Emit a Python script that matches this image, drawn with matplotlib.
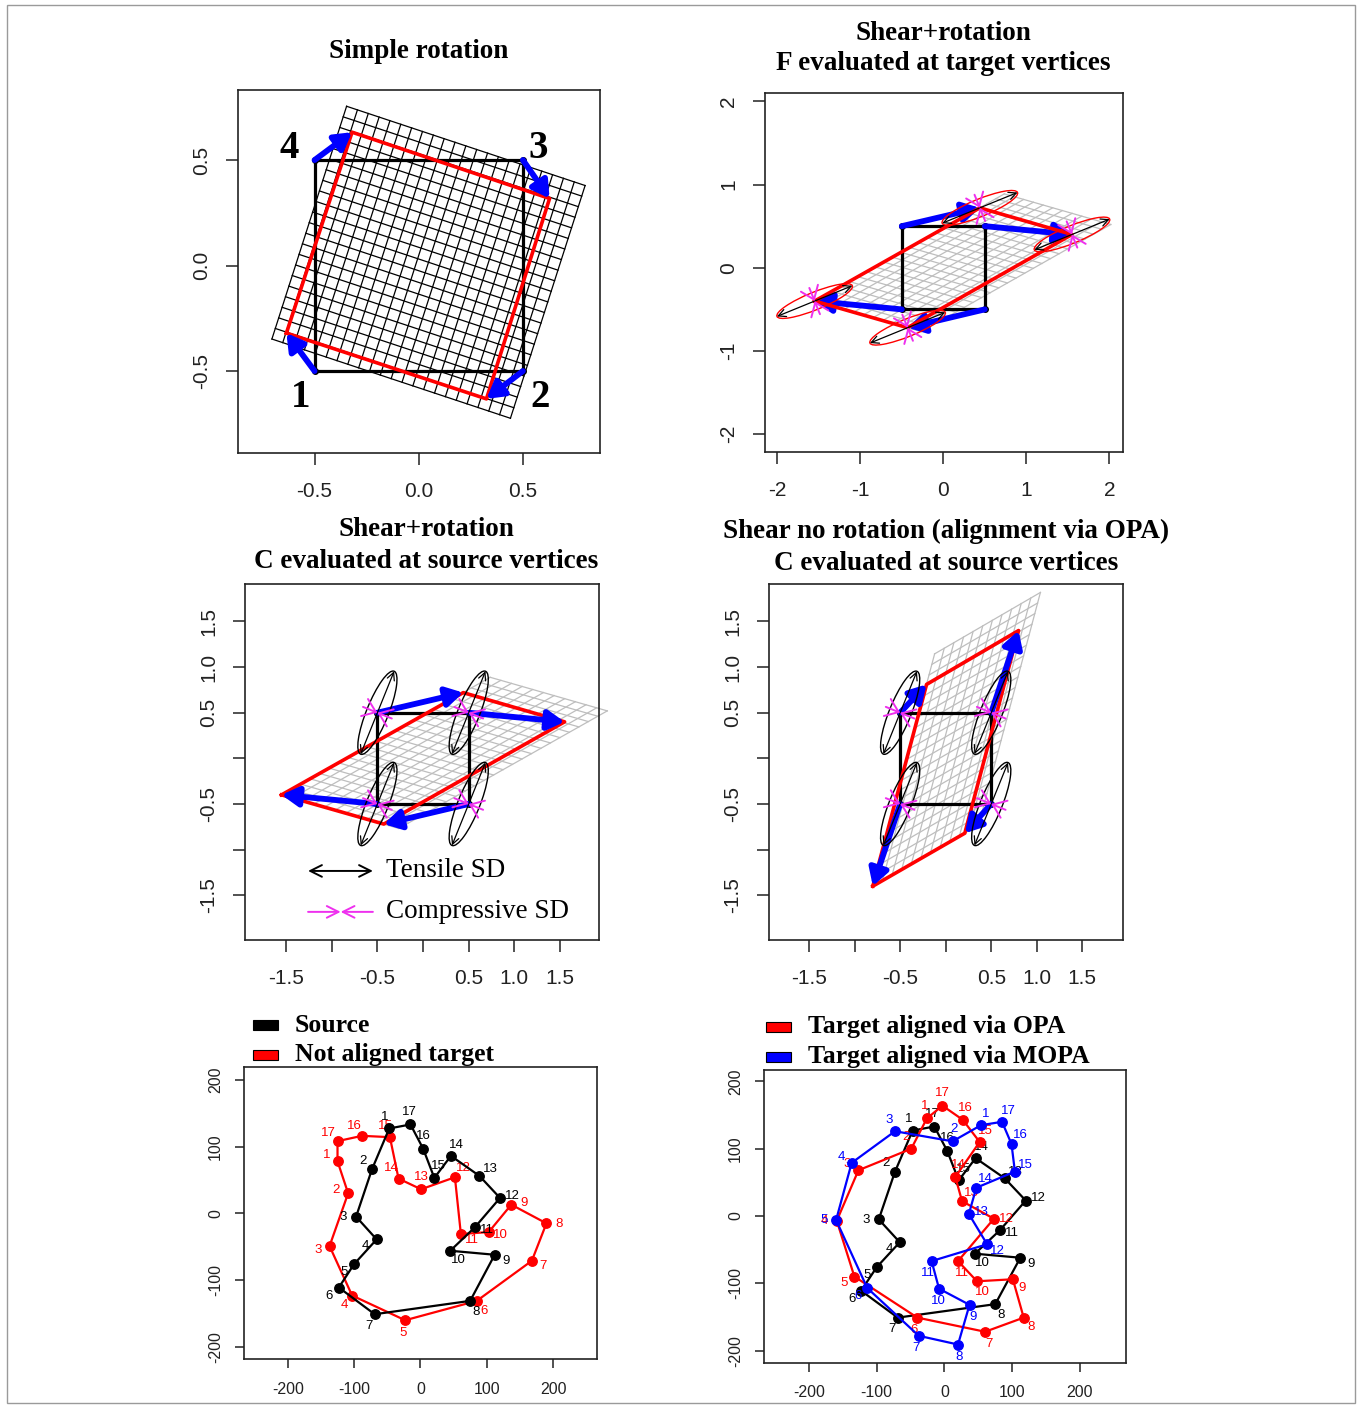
import numpy as np
import matplotlib
matplotlib.use("Agg")
import matplotlib.pyplot as plt
from matplotlib.patches import Ellipse, Rectangle

# ------------------------------------------------------------------ data
square_x = [-0.5, 0.5, 0.5, -0.5]
square_y = [-0.5, -0.5, 0.5, 0.5]
vertex_labels = ["1", "2", "3", "4"]

rot_target_x = [-0.635, 0.325, 0.628, -0.320]
rot_target_y = [-0.320, -0.632, 0.318, 0.632]

shear_target_x = [-1.55, -0.43, 1.55, 0.44]
shear_target_y = [-0.40, -0.72, 0.40, 0.72]

opa_square_target_x = [-0.80, 0.21, 0.80, -0.21]
opa_square_target_y = [-1.40, -0.82, 1.40, 0.81]

lm_labels = [str(i) for i in range(1, 18)]
source_x = [-47, -73, -97, -66, -100, -123, -69, 75, 112, 45, 82, 120, 89, 46, 21, 4, -15]
source_y = [127, 66, -5, -39, -76, -111, -151, -131, -62, -56, -21, 23, 56, 86, 53, 97, 133]

notaligned_x = [-125, -109, -137, -103, -23, 85, 168, 190, 137, 103, 61, 52, 1, -33, -46, -88, -125]
notaligned_y = [78, 30, -49, -123, -160, -131, -71, -15, 13, -28, -31, 54, 36, 52, 114, 116, 108]

opa_x = [-26, -49, -127, -159, -133, -40, 60, 117, 101, 48, 20, 73, 26, 16, 52, 27, -3]
opa_y = [145, 100, 68, -7, -90, -151, -172, -151, -94, -97, -67, -4, 22, 58, 110, 143, 164]

mopa_x = [54, 12, -73, -137, -160, -114, -38, 20, 37, -8, -19, 63, 36, 47, 104, 99, 85]
mopa_y = [135, 111, 126, 79, -6, -107, -178, -191, -132, -108, -67, -42, 3, 42, 66, 107, 140]

tick_top = [-0.5, 0.0, 0.5]
tick_f = [-2, -1, 0, 1, 2]
tick_c = [-1.5, -1.0, -0.5, 0.0, 0.5, 1.0, 1.5]
tick_c_xlab = ["-1.5", "", "-0.5", "", "0.5", "1.0", "1.5"]
tick_c_ylab = ["-1.5", "", "-0.5", "", "0.5", "1.0", "1.5"]
tick_lm = [-200, -100, 0, 100, 200]

# ------------------------------------------------------------------ style
W, H = 1360, 1405
SERIF = ["Liberation Serif", "DejaVu Serif"]
SANS = ["Liberation Sans", "DejaVu Sans"]
plt.rcParams["font.family"] = SANS
BLUE = "#0000FF"
RED = "#FF0000"
MAG = "#EE30EE"
GRAY = "#BEBEBE"

fig = plt.figure(figsize=(W / 100, H / 100), dpi=100)
fig.patch.set_facecolor("white")
fig.add_artist(Rectangle((7 / W, 1 - 1403 / H), 1348 / W, 1398 / H,
                         transform=fig.transFigure, fill=False,
                         edgecolor="#9a9a9a", lw=1.0))


def add_axes(l, r, t, b):
    return fig.add_axes([l / W, 1 - b / H, (r - l) / W, (b - t) / H])


def style_axes(ax, xt, xl, yt, yl, fs, tlen, padx, pady):
    ax.set_xticks(xt)
    ax.set_xticklabels(xl)
    ax.set_yticks(yt)
    ax.set_yticklabels(yl)
    ax.tick_params(direction="out", length=tlen, width=1.1, labelsize=fs,
                   colors="#222222")
    ax.tick_params(axis="x", pad=padx)
    ax.tick_params(axis="y", pad=pady, labelrotation=90)
    for lab in ax.get_yticklabels():
        lab.set_va("center")
    for sp in ax.spines.values():
        sp.set_linewidth(1.2)
        sp.set_color("#222222")


def fig_text(x, y, s, **kw):
    fig.text(x / W, 1 - y / H, s, **kw)


def affine_fit(sx, sy, tx, ty):
    A = np.column_stack([sx, sy, np.ones(len(sx))])
    P, *_ = np.linalg.lstsq(A, np.column_stack([tx, ty]), rcond=None)
    return P


def draw_grid(ax, P, xlo, xhi, ylo, yhi, nx, ny, color, lw):
    sy = np.linspace(ylo, yhi, 60)
    sx = np.linspace(xlo, xhi, 60)
    for v in np.linspace(xlo, xhi, nx + 1):
        pts = np.column_stack([np.full_like(sy, v), sy, np.ones_like(sy)]) @ P
        ax.plot(pts[:, 0], pts[:, 1], color=color, lw=lw, zorder=1, clip_on=False)
    for v in np.linspace(ylo, yhi, ny + 1):
        pts = np.column_stack([sx, np.full_like(sx, v), np.ones_like(sx)]) @ P
        ax.plot(pts[:, 0], pts[:, 1], color=color, lw=lw, zorder=1, clip_on=False)


def closed(a):
    return list(a) + [a[0]]


def draw_square(ax):
    ax.plot(closed(square_x), closed(square_y), color="black", lw=2.3, zorder=3)
    ax.plot(square_x, square_y, "o", color="black", ms=4, zorder=3)


def draw_target(ax, tx, ty):
    ax.plot(closed(tx), closed(ty), color=RED, lw=2.6, zorder=4)


def blue_arrows(ax, tx, ty, z=5):
    for sx, sy, ex, ey in zip(square_x, square_y, tx, ty):
        ax.annotate("", xy=(ex, ey), xytext=(sx, sy),
                    arrowprops=dict(arrowstyle="-|>,head_length=0.55,head_width=0.32",
                                    color=BLUE, lw=4.2, shrinkA=0, shrinkB=0,
                                    mutation_scale=18),
                    zorder=z)


def tensor_marks(ax, cx, cy, M, a, b, ecolor, comp_len):
    w, V = np.linalg.eigh(M)
    major = V[:, 1]
    minor = V[:, 0]
    ang = np.degrees(np.arctan2(major[1], major[0]))
    for x, y in zip(cx, cy):
        ax.add_patch(Ellipse((x, y), 2 * a, 2 * b, angle=ang, fill=False,
                             edgecolor=ecolor, lw=1.0, zorder=6))
        ax.annotate("", xy=(x + a * major[0], y + a * major[1]),
                    xytext=(x - a * major[0], y - a * major[1]),
                    arrowprops=dict(arrowstyle="<->,head_length=0.6,head_width=0.3",
                                    color="black", lw=0.9, shrinkA=0, shrinkB=0,
                                    mutation_scale=9), zorder=7)
        for sgn in (1, -1):
            ax.annotate("", xy=(x, y),
                        xytext=(x + sgn * comp_len * minor[0], y + sgn * comp_len * minor[1]),
                        arrowprops=dict(arrowstyle="->,head_length=0.8,head_width=0.6",
                                        color=MAG, lw=1.4, shrinkA=0, shrinkB=0,
                                        mutation_scale=11), zorder=8)


# ------------------------------------------------------------------ panel 1
ax1 = add_axes(238.3, 600, 90, 452.7)
ax1.set_xlim(-0.866, 0.870)
ax1.set_ylim(-0.887, 0.832)
P_rot = affine_fit(square_x, square_y, rot_target_x, rot_target_y)
draw_grid(ax1, P_rot, -0.56, 0.64, -0.55, 0.61, 22, 22, "black", 0.9)
draw_square(ax1)
draw_target(ax1, rot_target_x, rot_target_y)
blue_arrows(ax1, rot_target_x, rot_target_y)
label_offsets = [(-10, -19), (12, -19), (11, 8.5), (-18, 8.5)]
for x, y, s, off in zip(square_x, square_y, vertex_labels, label_offsets):
    ax1.annotate(s, (x, y), xytext=off, textcoords="offset points",
                 ha="center", va="center", fontsize=28, fontweight="bold",
                 family=SERIF, zorder=9)
style_axes(ax1, tick_top, ["-0.5", "0.0", "0.5"], tick_top, ["-0.5", "0.0", "0.5"],
           15, 8.4, 12.5, 11)
fig_text(419, 51, "Simple rotation", ha="center", va="center", fontsize=19.5,
         fontweight="bold", family=SERIF)

# ------------------------------------------------------------------ panel 2
ax2 = add_axes(765, 1122.7, 93, 451.7)
ax2.set_xlim(-2.148, 2.161)
ax2.set_ylim(-2.21, 2.10)
P_sh = affine_fit(square_x, square_y, shear_target_x, shear_target_y)
L_sh = P_sh[:2, :].T
draw_grid(ax2, P_sh, -0.5, 0.65, -0.5, 0.65, 11, 22, GRAY, 0.9)
draw_square(ax2)
blue_arrows(ax2, shear_target_x, shear_target_y, z=4)
draw_target(ax2, shear_target_x, shear_target_y)
tensor_marks(ax2, shear_target_x, shear_target_y, L_sh @ L_sh.T, 0.49, 0.105, RED, 0.17)
style_axes(ax2, tick_f, [str(v) for v in tick_f], tick_f, [str(v) for v in tick_f],
           15, 8.4, 12.5, 11)
fig_text(943, 34, "Shear+rotation", ha="center", va="center", fontsize=19.5,
         fontweight="bold", family=SERIF)
fig_text(943, 64, "F evaluated at target vertices", ha="center", va="center",
         fontsize=19.5, fontweight="bold", family=SERIF)

# ------------------------------------------------------------------ panel 3
ax3 = add_axes(245, 599.3, 584, 940)
ax3.set_xlim(-1.95, 1.93)
ax3.set_ylim(-1.99, 1.91)
draw_grid(ax3, P_sh, -0.5, 0.65, -0.5, 0.65, 11, 22, GRAY, 0.9)
draw_square(ax3)
draw_target(ax3, shear_target_x, shear_target_y)
blue_arrows(ax3, shear_target_x, shear_target_y)
tensor_marks(ax3, square_x, square_y, L_sh.T @ L_sh, 0.49, 0.12, "black", 0.17)
style_axes(ax3, tick_c, tick_c_xlab, tick_c, tick_c_ylab, 15, 8.4, 12.5, 11)
# legend
ax3.annotate("", xy=(0.361, 0.194), xytext=(0.178, 0.194), xycoords="axes fraction",
             arrowprops=dict(arrowstyle="<->,head_length=0.6,head_width=0.3",
                             color="black", lw=1.4, shrinkA=0, shrinkB=0,
                             mutation_scale=14))
for x0 in (0.178, 0.361):
    ax3.annotate("", xy=(0.27, 0.079), xytext=(x0, 0.079), xycoords="axes fraction",
                 arrowprops=dict(arrowstyle="->,head_length=0.6,head_width=0.3",
                                 color=MAG, lw=1.4, shrinkA=0, shrinkB=0,
                                 mutation_scale=14))
ax3.text(0.397, 0.194, "Tensile SD", transform=ax3.transAxes, ha="left", va="center",
         fontsize=19.5, family=SERIF)
ax3.text(0.397, 0.079, "Compressive SD", transform=ax3.transAxes, ha="left",
         va="center", fontsize=19.5, family=SERIF)
fig_text(426, 529, "Shear+rotation", ha="center", va="center", fontsize=19.5,
         fontweight="bold", family=SERIF)
fig_text(426, 561, "C evaluated at source vertices", ha="center", va="center",
         fontsize=19.5, fontweight="bold", family=SERIF)

# ------------------------------------------------------------------ panel 4
ax4 = add_axes(769, 1123.3, 584, 940)
ax4.set_xlim(-1.94, 1.95)
ax4.set_ylim(-1.99, 1.91)
P_opa = affine_fit(square_x, square_y, opa_square_target_x, opa_square_target_y)
L_opa = P_opa[:2, :].T
draw_grid(ax4, P_opa, -0.5, 0.65, -0.5, 0.65, 11, 22, GRAY, 0.9)
draw_square(ax4)
draw_target(ax4, opa_square_target_x, opa_square_target_y)
blue_arrows(ax4, opa_square_target_x, opa_square_target_y)
tensor_marks(ax4, square_x, square_y, L_opa.T @ L_opa, 0.49, 0.12, "black", 0.17)
style_axes(ax4, tick_c, tick_c_xlab, tick_c, tick_c_ylab, 15, 8.4, 12.5, 11)
fig_text(946, 531, "Shear no rotation (alignment via OPA)", ha="center", va="center",
         fontsize=19.5, fontweight="bold", family=SERIF)
fig_text(946, 563, "C evaluated at source vertices", ha="center", va="center",
         fontsize=19.5, fontweight="bold", family=SERIF)


# ------------------------------------------------------------------ landmark panels
def draw_config(ax, xs, ys, color, z):
    ax.plot(closed(xs), closed(ys), color=color, lw=1.6, zorder=z)
    ax.plot(xs, ys, "o", color=color, ms=6.8, zorder=z)
    cx, cy = np.mean(xs), np.mean(ys)
    for x, y, s in zip(xs, ys, lm_labels):
        d = np.array([x - cx, y - cy], float)
        d = d / (np.hypot(*d) + 1e-9)
        ax.annotate(s, (x, y), xytext=(9 * d[0], 9 * d[1]), textcoords="offset points",
                    ha="center", va="center", fontsize=9.5, color=color, zorder=z + 0.5)


ax5 = add_axes(244, 597.3, 1067, 1359)
ax5.set_xlim(-266, 266.7)
ax5.set_ylim(-218, 219)
draw_config(ax5, notaligned_x, notaligned_y, RED, 3)
draw_config(ax5, source_x, source_y, "black", 4)
style_axes(ax5, tick_lm, [str(v) for v in tick_lm], tick_lm, [str(v) for v in tick_lm],
           11.5, 6.7, 9.5, 8.5)

ax6 = add_axes(764.3, 1125.7, 1070, 1362.7)
ax6.set_xlim(-266, 267.6)
ax6.set_ylim(-218, 217)
draw_config(ax6, source_x, source_y, "black", 3)
draw_config(ax6, opa_x, opa_y, RED, 4)
draw_config(ax6, mopa_x, mopa_y, BLUE, 5)
style_axes(ax6, tick_lm, [str(v) for v in tick_lm], tick_lm, [str(v) for v in tick_lm],
           11.5, 6.7, 9.5, 8.5)


def legend_entry(x, y, color, text):
    fig.add_artist(Rectangle((x / W, 1 - (y + 5) / H), 25 / W, 10 / H,
                             transform=fig.transFigure, facecolor=color,
                             edgecolor="black", lw=0.8))
    fig_text(x + 42, y, text, ha="left", va="center", fontsize=18.5,
             fontweight="bold", family=SERIF)


legend_entry(253, 1025, "black", "Source")
legend_entry(253, 1055, RED, "Not aligned target")
legend_entry(766, 1027, RED, "Target aligned via OPA")
legend_entry(766, 1057, BLUE, "Target aligned via MOPA")

fig.savefig("out.png", dpi=100, facecolor="white")
